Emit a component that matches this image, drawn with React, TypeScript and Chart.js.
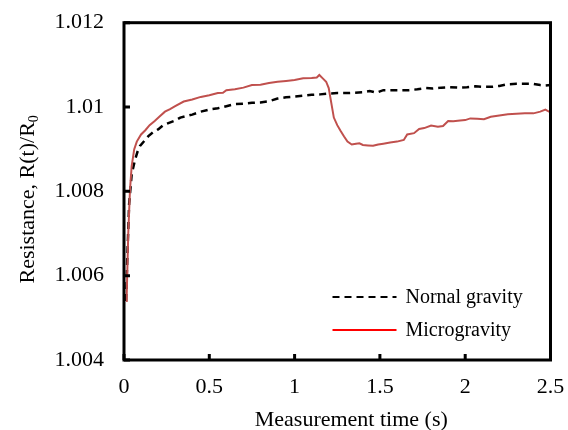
import React, { useEffect, useRef } from "react";
import { Chart, registerables } from "chart.js";

Chart.register(...registerables);

const normalTime = [0.012, 0.02, 0.03, 0.045, 0.064, 0.08, 0.094, 0.12, 0.143, 0.17, 0.2, 0.23, 0.26, 0.3, 0.33, 0.37, 0.4, 0.45, 0.5, 0.55, 0.6, 0.65, 0.7, 0.75, 0.8, 0.85, 0.9, 0.95, 1.0, 1.05, 1.1, 1.15, 1.2, 1.25, 1.3, 1.35, 1.4, 1.44, 1.48, 1.52, 1.57, 1.62, 1.67, 1.72, 1.77, 1.81, 1.86, 1.91, 1.96, 2.01, 2.06, 2.11, 2.16, 2.2, 2.25, 2.3, 2.35, 2.4, 2.44, 2.47, 2.5];
const normalValues = [1.0054, 1.0065, 1.0077, 1.0084, 1.00874, 1.00895, 1.00908, 1.0092, 1.00931, 1.0094, 1.00947, 1.00957, 1.00962, 1.00968, 1.00975, 1.00979, 1.00982, 1.00989, 1.00994, 1.00997, 1.01002, 1.01007, 1.01008, 1.0101, 1.01011, 1.01014, 1.0102, 1.01023, 1.01025, 1.01027, 1.01029, 1.0103, 1.01032, 1.01033, 1.01033, 1.01034, 1.01035, 1.01038, 1.01034, 1.0104, 1.0104, 1.0104, 1.0104, 1.01042, 1.01045, 1.01044, 1.01046, 1.01047, 1.01046, 1.01047, 1.01049, 1.01048, 1.01048, 1.0105, 1.01054, 1.01055, 1.01055, 1.01055, 1.01052, 1.01051, 1.01052];

const microTime = [0.012, 0.016, 0.025, 0.035, 0.045, 0.06, 0.075, 0.1, 0.125, 0.15, 0.18, 0.21, 0.24, 0.27, 0.3, 0.35, 0.4, 0.45, 0.5, 0.55, 0.58, 0.6, 0.65, 0.7, 0.75, 0.8, 0.85, 0.9, 0.95, 1.0, 1.05, 1.1, 1.13, 1.145, 1.165, 1.185, 1.2, 1.215, 1.23, 1.25, 1.27, 1.29, 1.31, 1.335, 1.36, 1.38, 1.4, 1.43, 1.46, 1.49, 1.52, 1.56, 1.6, 1.64, 1.66, 1.7, 1.73, 1.76, 1.8, 1.84, 1.87, 1.9, 1.93, 1.97, 2.0, 2.03, 2.07, 2.11, 2.15, 2.2, 2.25, 2.3, 2.35, 2.4, 2.44, 2.47, 2.5];
const microValues = [1.0054, 1.00555, 1.007, 1.00803, 1.0086, 1.009, 1.00918, 1.00935, 1.00945, 1.00957, 1.00967, 1.00978, 1.00989, 1.00995, 1.01002, 1.01013, 1.01018, 1.01024, 1.01028, 1.01033, 1.01034, 1.0104, 1.01042, 1.01046, 1.01052, 1.01053, 1.01057, 1.0106, 1.01062, 1.01064, 1.01068, 1.01069, 1.0107, 1.01076, 1.01068, 1.0106, 1.01045, 1.0101, 1.00975, 1.00957, 1.00943, 1.0093, 1.00918, 1.00911, 1.00913, 1.00914, 1.0091, 1.00909, 1.00908, 1.00911, 1.00913, 1.00916, 1.00918, 1.00922, 1.00935, 1.00938, 1.00948, 1.0095, 1.00956, 1.00953, 1.00955, 1.00967, 1.00966, 1.00968, 1.00969, 1.00973, 1.00972, 1.00971, 1.00977, 1.0098, 1.00983, 1.00984, 1.00985, 1.00985, 1.00989, 1.00994, 1.00987];

const xTicks = [0, 0.5, 1, 1.5, 2, 2.5];
const yTicks = [1.004, 1.006, 1.008, 1.01, 1.012];

const seriesLabels = ["Nornal gravity", "Microgravity"];
const xTitle = "Measurement time (s)";
const yTitleMain = "Resistance, R(t)/R";
const yTitleSub = "0";

const FONT = "'Liberation Serif', 'Times New Roman', serif";
const RED = "#C0504D";

const decorPlugin = {
  id: "decor",
  afterDraw(chart: any) {
    const { ctx, chartArea: a, scales } = chart;
    const xs = scales.x;
    const ys = scales.y;
    ctx.save();
    ctx.strokeStyle = "#000";
    ctx.lineWidth = 3;
    ctx.beginPath();
    xTicks.forEach((t) => {
      const px = xs.getPixelForValue(t);
      ctx.moveTo(px, a.bottom);
      ctx.lineTo(px, a.bottom - 6);
    });
    yTicks.forEach((t) => {
      const py = ys.getPixelForValue(t);
      ctx.moveTo(a.left, py);
      ctx.lineTo(a.left + 6, py);
    });
    ctx.stroke();
    ctx.strokeRect(a.left, a.top, a.right - a.left, a.bottom - a.top);

    // x title
    ctx.fillStyle = "#000";
    ctx.font = `22px ${FONT}`;
    ctx.textAlign = "center";
    ctx.textBaseline = "alphabetic";
    ctx.fillText(xTitle, (a.left + a.right) / 2 + 14, a.bottom + 66);

    // y title with subscript
    ctx.save();
    const cy = (a.top + a.bottom) / 2 + 8;
    ctx.translate(26, cy);
    ctx.rotate(-Math.PI / 2);
    ctx.font = `22px ${FONT}`;
    const wMain = ctx.measureText(yTitleMain).width;
    ctx.font = `14px ${FONT}`;
    const wSub = ctx.measureText(yTitleSub).width;
    const total = wMain + wSub;
    ctx.textAlign = "left";
    ctx.textBaseline = "alphabetic";
    ctx.font = `22px ${FONT}`;
    ctx.fillText(yTitleMain, -total / 2, 8);
    ctx.font = `14px ${FONT}`;
    ctx.fillText(yTitleSub, -total / 2 + wMain, 12);
    ctx.restore();

    // legend
    const rows = [
      { label: seriesLabels[0], color: "#000", dash: [7, 5] },
      { label: seriesLabels[1], color: "#FF0000", dash: [] },
    ];
    const lx0 = a.right - 218;
    const lx1 = a.right - 154;
    const tx = a.right - 145;
    rows.forEach((r, i) => {
      const y = a.bottom - 63 + i * 33;
      ctx.beginPath();
      ctx.setLineDash(r.dash);
      ctx.strokeStyle = r.color;
      ctx.lineWidth = 2;
      ctx.moveTo(lx0, y);
      ctx.lineTo(lx1, y);
      ctx.stroke();
      ctx.setLineDash([]);
      ctx.fillStyle = "#000";
      ctx.font = `20px ${FONT}`;
      ctx.textAlign = "left";
      ctx.textBaseline = "middle";
      ctx.fillText(r.label, tx, y + 1);
    });
    ctx.restore();
  },
};

export default function App() {
  const ref = useRef<HTMLCanvasElement>(null);
  useEffect(() => {
    if (!ref.current) return;
    const chart = new Chart(ref.current, {
      type: "line",
      data: {
        datasets: [
          {
            label: seriesLabels[1],
            data: microTime.map((t, i) => ({ x: t, y: microValues[i] })),
            borderColor: RED,
            borderWidth: 2,
            pointRadius: 0,
            tension: 0,
            fill: false,
          },
          {
            label: seriesLabels[0],
            data: normalTime.map((t, i) => ({ x: t, y: normalValues[i] })),
            borderColor: "#000",
            borderWidth: 2.5,
            borderDash: [7, 5],
            pointRadius: 0,
            tension: 0,
            fill: false,
          },
        ],
      },
      options: {
        animation: false,
        responsive: false,
        maintainAspectRatio: false,
        layout: { padding: { top: 22.7, right: 17.5, left: 0, bottom: 0 } },
        plugins: { legend: { display: false }, tooltip: { enabled: false } },
        scales: {
          x: {
            type: "linear",
            min: 0,
            max: 2.5,
            afterBuildTicks: (s: any) => {
              s.ticks = xTicks.map((v) => ({ value: v }));
            },
            afterFit: (s: any) => {
              s.height = 70;
              s.paddingLeft = 0;
              s.paddingRight = 0;
            },
            grid: { display: false, drawTicks: false },
            border: { display: false },
            ticks: {
              color: "#000",
              font: { family: FONT, size: 22 },
              padding: 14,
              maxRotation: 0,
              callback: (v: any) => String(Number(Number(v).toFixed(2))),
            },
          },
          y: {
            type: "linear",
            min: 1.004,
            max: 1.012,
            afterBuildTicks: (s: any) => {
              s.ticks = yTicks.map((v) => ({ value: v }));
            },
            afterFit: (s: any) => {
              s.width = 124;
              s.paddingTop = 0;
              s.paddingBottom = 0;
            },
            grid: { display: false, drawTicks: false },
            border: { display: false },
            ticks: {
              color: "#000",
              font: { family: FONT, size: 22 },
              padding: 20,
              callback: (v: any) => String(Number(Number(v).toFixed(3))),
            },
          },
        },
      },
      plugins: [decorPlugin],
    });
    return () => chart.destroy();
  }, []);
  return (
    <div style={{ position: "fixed", left: 0, top: 0, width: 568, height: 430, background: "#fff" }}>
      <canvas ref={ref} width={568} height={430} style={{ width: 568, height: 430 }} />
    </div>
  );
}
